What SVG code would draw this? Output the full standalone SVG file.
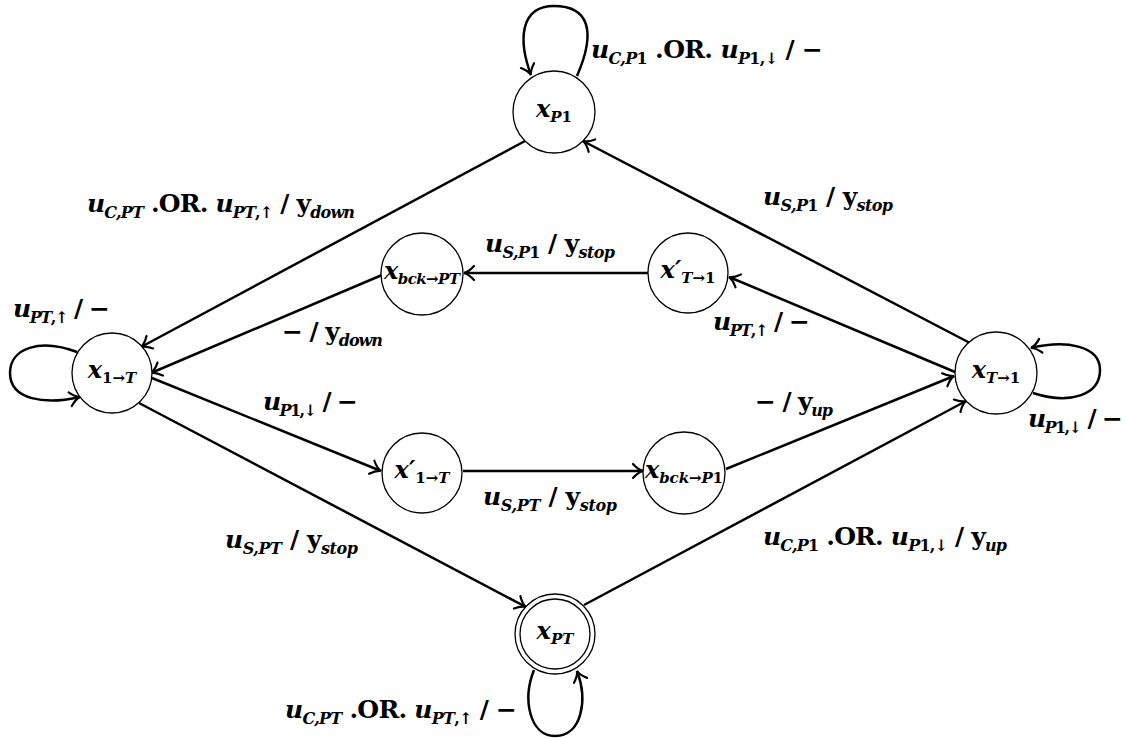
<svg xmlns="http://www.w3.org/2000/svg" width="1126" height="738" viewBox="0 0 1126 738">
<style>
.node circle{fill:#fff;stroke:#000;stroke-width:1.3}
.edge{fill:none;stroke:#000;stroke-width:2.5;marker-end:url(#arr)}
.lbl{font-family:'DejaVu Serif','Liberation Serif',serif;font-weight:bold;font-size:25px;fill:#000}
.nl{font-family:'DejaVu Serif','Liberation Serif',serif;font-weight:bold;font-size:24px;fill:#000;text-anchor:middle}
.i{font-style:italic}
.s{font-size:16px}
.ns{font-size:15px}
</style>
<defs>
<marker id="arr" viewBox="-12 -9 14 18" refX="0" refY="0" markerWidth="14" markerHeight="18" markerUnits="userSpaceOnUse" orient="auto">
<path d="M-10,-7 C-6,-2.5 -2.5,-0.6 0,0 C-2.5,0.6 -6,2.5 -10,7" fill="none" stroke="#000" stroke-width="2.2" stroke-linecap="round"/>
</marker>
</defs>
<rect width="1126" height="738" fill="#fff"/>
<g id="connectors">
<path class="edge" d="M525,141 L141,347"/>
<path class="edge" d="M970,343 L583,141"/>
<path class="edge" d="M648,273 L464,273"/>
<path class="edge" d="M955,372 L729,277"/>
<path class="edge" d="M382,275 L151,373"/>
<path class="edge" d="M152,378 L381,471"/>
<path class="edge" d="M463,471 L643,471"/>
<path class="edge" d="M726,469 L954,376"/>
<path class="edge" d="M139,403 L526,607"/>
<path class="edge" d="M584,605 L966,401"/>
<path class="edge" d="M577,76 C597,30 588,6 554,6 C520,6 518,40 531,75"/>
<path class="edge" d="M77,352 C40,338 10,348 10,373 C10,400 45,405 80,397"/>
<path class="edge" d="M1033,393 C1070,405 1100,395 1100,370 C1100,345 1065,340 1031,348"/>
<path class="edge" d="M534,670 C522,700 530,736 555,736 C582,736 588,700 577,671"/>
</g>
<g id="edge-labels">
<text class="lbl" x="591" y="58" textLength="232"><tspan class="i">u</tspan><tspan class="i s" dy="6">C,P</tspan><tspan class="s">1</tspan><tspan dy="-6"> .OR. </tspan><tspan class="i">u</tspan><tspan class="i s" dy="6">P</tspan><tspan class="s">1,↓</tspan><tspan dy="-6"> / −</tspan></text>
<text class="lbl" x="87" y="212" textLength="268"><tspan class="i">u</tspan><tspan class="i s" dy="6">C,PT</tspan><tspan dy="-6"> .OR. </tspan><tspan class="i">u</tspan><tspan class="i s" dy="6">PT</tspan><tspan class="s">,↑</tspan><tspan dy="-6"> / y</tspan><tspan class="i s" dy="6">down</tspan></text>
<text class="lbl" x="13" y="317" textLength="97"><tspan class="i">u</tspan><tspan class="i s" dy="6">PT</tspan><tspan class="s">,↑</tspan><tspan dy="-6"> / −</tspan></text>
<text class="lbl" x="282" y="340" textLength="101"><tspan>− / y</tspan><tspan class="i s" dy="6">down</tspan></text>
<text class="lbl" x="263" y="410" textLength="95"><tspan class="i">u</tspan><tspan class="i s" dy="6">P</tspan><tspan class="s">1,↓</tspan><tspan dy="-6"> / −</tspan></text>
<text class="lbl" x="485" y="252" textLength="130"><tspan class="i">u</tspan><tspan class="i s" dy="6">S,P</tspan><tspan class="s">1</tspan><tspan dy="-6"> / y</tspan><tspan class="i s" dy="6">stop</tspan></text>
<text class="lbl" x="713" y="330" textLength="97"><tspan class="i">u</tspan><tspan class="i s" dy="6">PT</tspan><tspan class="s">,↑</tspan><tspan dy="-6"> / −</tspan></text>
<text class="lbl" x="755" y="410" textLength="78"><tspan>− / y</tspan><tspan class="i s" dy="6">up</tspan></text>
<text class="lbl" x="1028" y="427" textLength="95"><tspan class="i">u</tspan><tspan class="i s" dy="6">P</tspan><tspan class="s">1,↓</tspan><tspan dy="-6"> / −</tspan></text>
<text class="lbl" x="483" y="505" textLength="134"><tspan class="i">u</tspan><tspan class="i s" dy="6">S,PT</tspan><tspan dy="-6"> / y</tspan><tspan class="i s" dy="6">stop</tspan></text>
<text class="lbl" x="225" y="548" textLength="133"><tspan class="i">u</tspan><tspan class="i s" dy="6">S,PT</tspan><tspan dy="-6"> / y</tspan><tspan class="i s" dy="6">stop</tspan></text>
<text class="lbl" x="285" y="718" textLength="232"><tspan class="i">u</tspan><tspan class="i s" dy="6">C,PT</tspan><tspan dy="-6"> .OR. </tspan><tspan class="i">u</tspan><tspan class="i s" dy="6">PT</tspan><tspan class="s">,↑</tspan><tspan dy="-6"> / −</tspan></text>
<text class="lbl" x="763" y="205" textLength="130"><tspan class="i">u</tspan><tspan class="i s" dy="6">S,P</tspan><tspan class="s">1</tspan><tspan dy="-6"> / y</tspan><tspan class="i s" dy="6">stop</tspan></text>
<text class="lbl" x="763" y="545" textLength="244"><tspan class="i">u</tspan><tspan class="i s" dy="6">C,P</tspan><tspan class="s">1</tspan><tspan dy="-6"> .OR. </tspan><tspan class="i">u</tspan><tspan class="i s" dy="6">P</tspan><tspan class="s">1,↓</tspan><tspan dy="-6"> / y</tspan><tspan class="i s" dy="6">up</tspan></text>
</g>
<g id="node-xP1" class="node"><circle cx="554" cy="112" r="41"/><text class="nl" x="554" y="117"><tspan class="i">x</tspan><tspan class="i ns" dy="5">P</tspan><tspan class="ns">1</tspan></text></g>
<g id="node-x1T" class="node"><circle cx="112" cy="373" r="40"/><text class="nl" x="112" y="378"><tspan class="i">x</tspan><tspan class="ns" dy="5">1→</tspan><tspan class="i ns">T</tspan></text></g>
<g id="node-xbckPT" class="node"><circle cx="422" cy="274" r="41"/><text class="nl" x="422" y="279" textLength="76"><tspan class="i">x</tspan><tspan class="i ns" dy="5">bck</tspan><tspan class="ns">→</tspan><tspan class="i ns">PT</tspan></text></g>
<g id="node-xpT1" class="node"><circle cx="688" cy="273" r="40"/><text class="nl" x="688" y="278"><tspan class="i">x′</tspan><tspan class="i ns" dy="5">T</tspan><tspan class="ns">→1</tspan></text></g>
<g id="node-xT1" class="node"><circle cx="996" cy="373" r="41"/><text class="nl" x="996" y="378"><tspan class="i">x</tspan><tspan class="i ns" dy="5">T</tspan><tspan class="ns">→1</tspan></text></g>
<g id="node-xp1T" class="node"><circle cx="422" cy="473" r="40"/><text class="nl" x="422" y="478"><tspan class="i">x′</tspan><tspan class="ns" dy="5">1→</tspan><tspan class="i ns">T</tspan></text></g>
<g id="node-xbckP1" class="node"><circle cx="684" cy="473" r="41"/><text class="nl" x="684" y="478" textLength="78"><tspan class="i">x</tspan><tspan class="i ns" dy="5">bck</tspan><tspan class="ns">→</tspan><tspan class="i ns">P</tspan><tspan class="ns">1</tspan></text></g>
<g id="node-xPT" class="node"><circle cx="555" cy="634" r="40"/><circle cx="555" cy="634" r="35"/><text class="nl" x="555" y="639"><tspan class="i">x</tspan><tspan class="i ns" dy="5">PT</tspan></text></g>
</svg>
